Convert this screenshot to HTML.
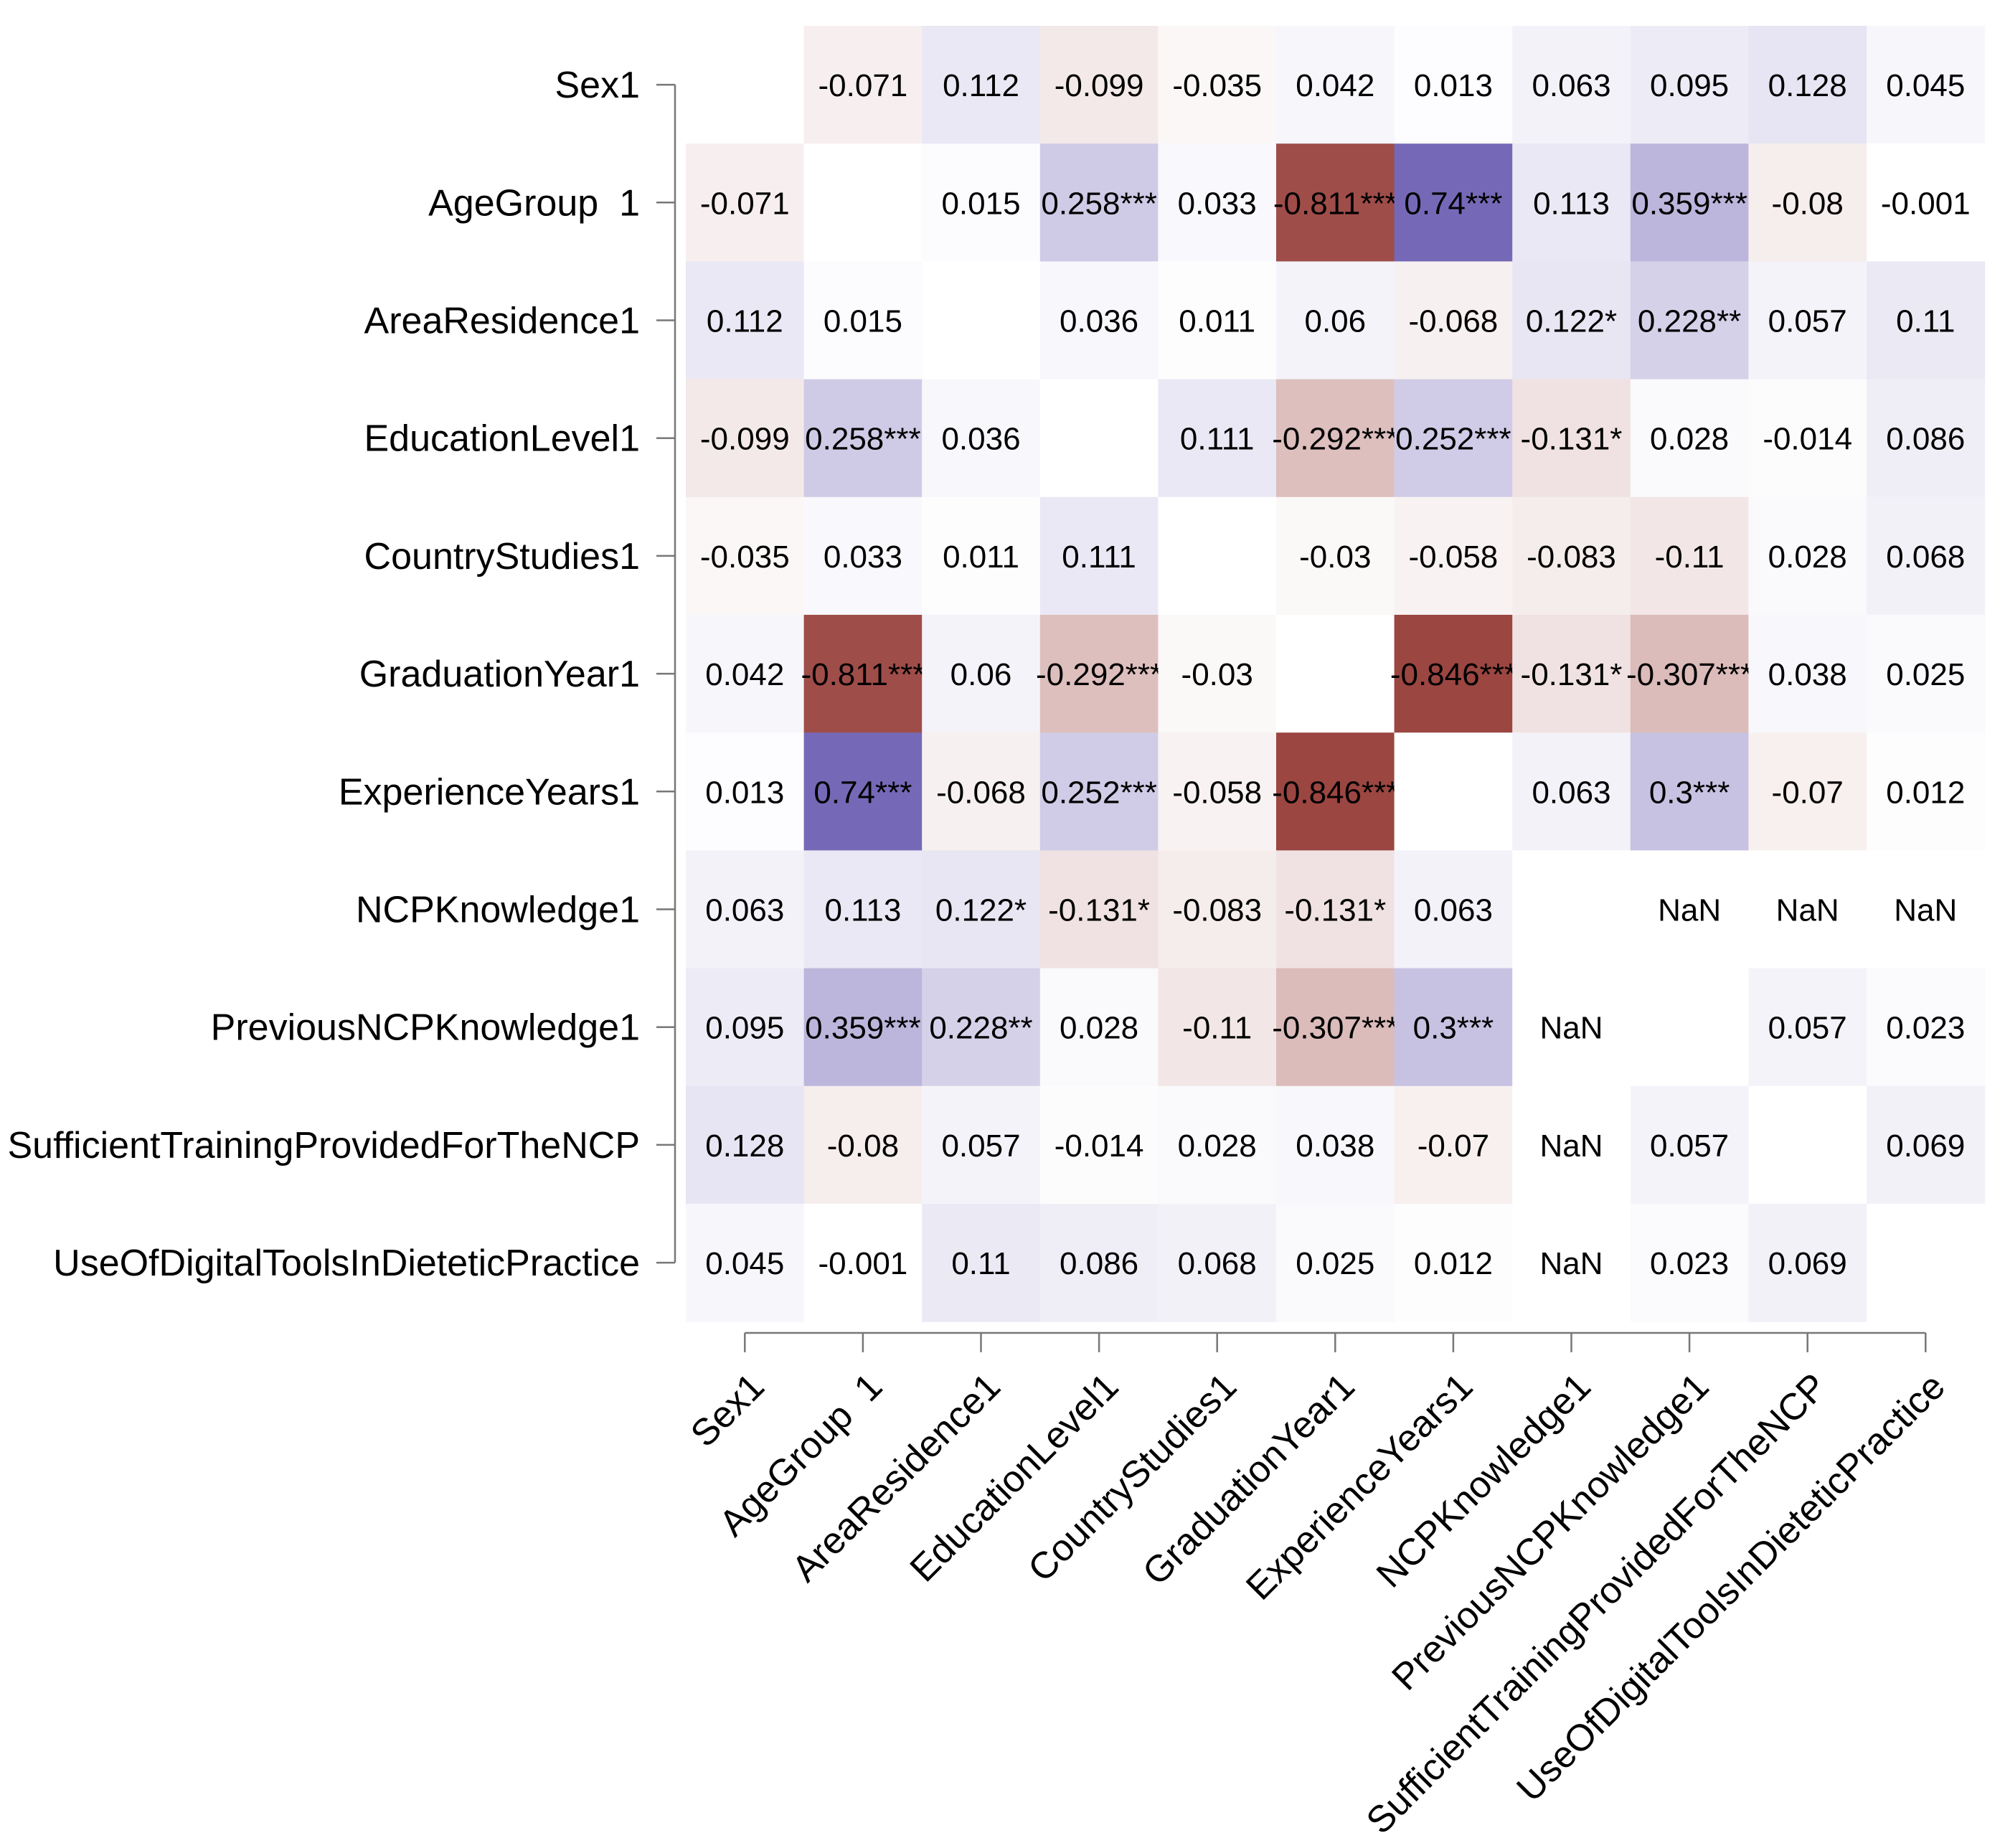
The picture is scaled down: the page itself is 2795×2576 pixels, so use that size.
<!DOCTYPE html>
<html><head><meta charset="utf-8"><style>
html,body{margin:0;padding:0;background:#fff;}
svg{display:block;font-family:"Liberation Sans",Arial,sans-serif;}
</style></head><body>
<svg id="chart" width="2795" height="2576" viewBox="0 0 2795 2576" xmlns="http://www.w3.org/2000/svg">
<g id="cells"></g>
<g id="yaxis"></g>
<g id="xaxis"></g>
</svg>
<script>
const variables = ["Sex1","AgeGroup  1","AreaResidence1","EducationLevel1","CountryStudies1","GraduationYear1","ExperienceYears1","NCPKnowledge1","PreviousNCPKnowledge1","SufficientTrainingProvidedForTheNCP","UseOfDigitalToolsInDieteticPractice"];
// null = diagonal (blank), NaN = NaN
const corrValues = [
[null,-0.071,0.112,-0.099,-0.035,0.042,0.013,0.063,0.095,0.128,0.045],
[-0.071,null,0.015,0.258,0.033,-0.811,0.74,0.113,0.359,-0.08,-0.001],
[0.112,0.015,null,0.036,0.011,0.06,-0.068,0.122,0.228,0.057,0.11],
[-0.099,0.258,0.036,null,0.111,-0.292,0.252,-0.131,0.028,-0.014,0.086],
[-0.035,0.033,0.011,0.111,null,-0.03,-0.058,-0.083,-0.11,0.028,0.068],
[0.042,-0.811,0.06,-0.292,-0.03,null,-0.846,-0.131,-0.307,0.038,0.025],
[0.013,0.74,-0.068,0.252,-0.058,-0.846,null,0.063,0.3,-0.07,0.012],
[0.063,0.113,0.122,-0.131,-0.083,-0.131,0.063,null,NaN,NaN,NaN],
[0.095,0.359,0.228,0.028,-0.11,-0.307,0.3,NaN,null,0.057,0.023],
[0.128,-0.08,0.057,-0.014,0.028,0.038,-0.07,NaN,0.057,null,0.069],
[0.045,-0.001,0.11,0.086,0.068,0.025,0.012,NaN,0.023,0.069,null]
];
const significance = [
["","","","","","","","","","",""],
["","","","***","","***","***","","***","",""],
["","","","","","","","*","**","",""],
["","***","","","","***","***","*","","",""],
["","","","","","","","","","",""],
["","***","","***","","","***","*","***","",""],
["","***","","***","","***","","","***","",""],
["","","*","*","","*","","","","",""],
["","***","**","","","***","***","","","",""],
["","","","","","","","","","",""],
["","","","","","","","","","",""]
];
const NS="http://www.w3.org/2000/svg";
const gridLeft=956, gridTop=36, cw=164.6, ch=164.2;
const xPos=j=>gridLeft+j*cw;
const yPos=i=>gridTop+i*ch;
function color(v){
  if(v===null||isNaN(v)) return "#ffffff";
  const a=Math.min(1,Math.abs(v));
  const e = v<0 ? [137,36,30] : [69,52,158];
  const c=e.map(x=>Math.round(255-(255-x)*a));
  return `rgb(${c[0]},${c[1]},${c[2]})`;
}
function mk(tag,attrs,parent){const el=document.createElementNS(NS,tag);for(const k in attrs)el.setAttribute(k,attrs[k]);parent.appendChild(el);return el;}
const cells=document.getElementById('cells');
const n=variables.length;
for(let i=0;i<n;i++){for(let j=0;j<n;j++){
  const v=corrValues[i][j];
  const r=mk('rect',{x:xPos(j),y:yPos(i),width:cw+0.6,height:ch+0.6,fill:color(v)},cells);
  
  
  if(v!==null){
    const t=mk('text',{x:xPos(j)+cw/2,y:yPos(i)+ch/2+16,'text-anchor':'middle','font-size':44,fill:'#000'},cells);
    t.textContent = isNaN(v)?"NaN":(String(v)+significance[i][j]);
    
    
  }
}}
const ya=document.getElementById('yaxis');
const axX=941;
const yl=mk('line',{x1:axX,x2:axX,y1:yPos(0)+ch/2,y2:yPos(n-1)+ch/2,stroke:'#777','stroke-width':2.5},ya);


for(let i=0;i<n;i++){
  const cy=yPos(i)+ch/2;
  const tk=mk('line',{x1:axX-26,x2:axX,y1:cy,y2:cy,stroke:'#777','stroke-width':2.5},ya);
  
  
  const t=mk('text',{x:892,y:cy+18,'text-anchor':'end','font-size':52,fill:'#000'},ya);
  t.style.whiteSpace='pre';
  t.textContent=variables[i];
  
  
}
const xa=document.getElementById('xaxis');
const axY=1858;
const xl=mk('line',{x1:xPos(0)+cw/2,x2:xPos(n-1)+cw/2,y1:axY,y2:axY,stroke:'#777','stroke-width':2.5},xa);


for(let j=0;j<n;j++){
  const cx=xPos(j)+cw/2;
  const tk=mk('line',{x1:cx,x2:cx,y1:axY,y2:axY+27,stroke:'#777','stroke-width':2.5},xa);
  
  
  const ax=cx+30, ay=1936;
  const t=mk('text',{x:ax,y:ay,'text-anchor':'end','font-size':52,fill:'#000',transform:`rotate(-45 ${ax} ${ay})`},xa);
  t.style.whiteSpace='pre';
  t.textContent=variables[j];
  
  
}
</script>
</body></html>
